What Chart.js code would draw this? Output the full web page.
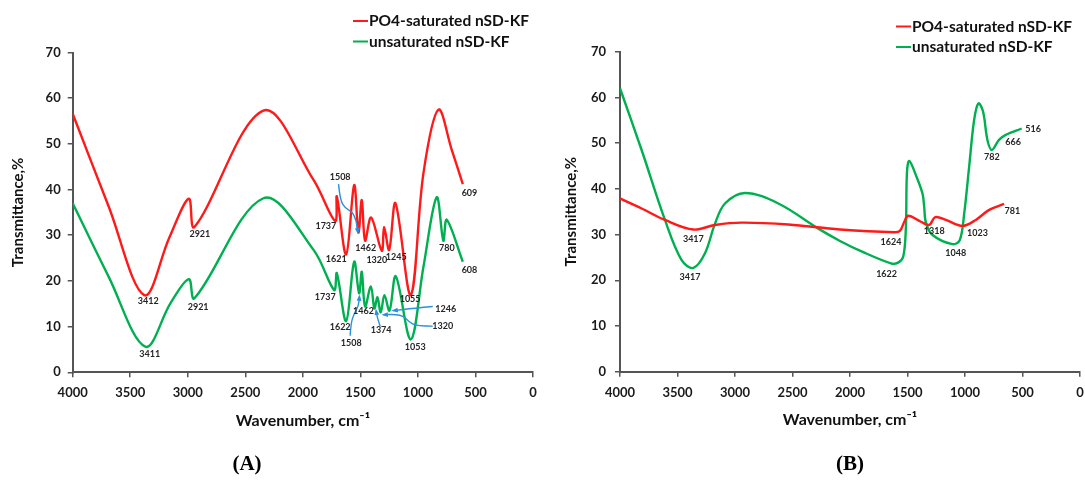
<!DOCTYPE html>
<html lang="en">
<head>
<meta charset="UTF-8">
<title>FTIR spectra of nSD-KF</title>
<script src="https://cdn.jsdelivr.net/npm/chart.js@4.4.0/dist/chart.umd.min.js"></script>
<style>
  body { margin: 0; background: #fff; }
  .panel { position: absolute; top: 0; height: 481px; }
  #boxA { left: 0; width: 540px; }
  #boxB { left: 540px; width: 545px; }
</style>
</head>
<body>
<div class="panel" id="boxA"><canvas id="chartA"></canvas></div>
<div class="panel" id="boxB"><canvas id="chartB"></canvas></div>
<script>
// Panel A spectra: wavenumber (cm-1) / transmittance (%)
const waveRedA = [4000, 3689, 3378, 3160, 2991, 2942, 2343, 1907, 1719, 1705, 1624, 1554, 1517, 1488, 1459, 1407, 1314, 1294, 1250, 1195, 1062, 952, 822, 706, 610];
const transRedA = [56.6, 36.4, 16.9, 29.5, 38.0, 31.8, 57.3, 42.1, 33.1, 38.5, 25.8, 41.0, 30.6, 37.7, 28.8, 33.9, 26.6, 31.8, 26.8, 37.0, 16.9, 43.6, 57.5, 48.7, 41.2];
const waveGreenA = [4000, 3689, 3369, 3151, 2991, 2942, 2343, 1907, 1728, 1705, 1624, 1554, 1511, 1488, 1459, 1409, 1378, 1352, 1323, 1291, 1247, 1192, 1062, 952, 837, 779, 749, 610];
const transGreenA = [37.0, 21.0, 5.6, 15.1, 20.4, 16.2, 38.1, 26.8, 18.0, 21.7, 11.2, 24.2, 17.3, 22.0, 14.4, 18.8, 14.0, 16.4, 13.1, 16.9, 13.5, 21.0, 7.2, 23.1, 38.3, 28.8, 33.4, 24.2];

// Panel B spectra
const waveRedB = [4000, 3812, 3609, 3362, 3174, 2942, 2536, 2087, 1615, 1566, 1528, 1494, 1384, 1311, 1259, 1167, 1022, 906, 790, 660];
const transRedB = [37.9, 35.7, 33.2, 31.1, 32.1, 32.6, 32.2, 31.1, 30.5, 30.8, 32.8, 34.1, 32.8, 32.1, 33.8, 33.2, 31.9, 33.2, 35.4, 36.7];
const waveGreenB = [4000, 3812, 3609, 3464, 3362, 3261, 3174, 3087, 2913, 2623, 2275, 2087, 1890, 1644, 1586, 1537, 1514, 1505, 1485, 1421, 1369, 1355, 1340, 1282, 1109, 1045, 1007, 964, 921, 883, 843, 805, 767, 704, 646, 507];
const transGreenB = [62.0, 48.5, 33.2, 24.4, 22.7, 25.9, 32.4, 36.8, 39.1, 36.8, 31.3, 28.6, 26.2, 23.7, 23.8, 25.2, 31.7, 43.4, 46.1, 42.6, 38.9, 36.1, 32.6, 29.9, 27.9, 28.8, 34.6, 44.8, 55.0, 58.7, 56.9, 50.7, 48.5, 50.7, 51.8, 53.2];

const seriesNames = ['PO4-saturated nSD-KF', 'unsaturated nSD-KF'];

// peak labels: [text, wavenumber, transmittance]
const peaksA = [
  ['3412', 3343, 15.6], ['2921', 2895, 30.2], ['3411', 3331, 3.9], ['2921', 2910, 14.2],
  ['1737', 1800, 32.0], ['1621', 1710, 24.8], ['1508', 1676, 42.7], ['1462', 1453, 27.2],
  ['1320', 1357, 24.6], ['1245', 1189, 25.3], ['1055', 1068, 16.0], ['609', 552, 39.3],
  ['780', 749, 27.2], ['608', 552, 22.3],
  ['1737', 1806, 16.4], ['1622', 1676, 9.9], ['1508', 1580, 6.5], ['1462', 1473, 13.3],
  ['1374', 1320, 9.2], ['1320', 784, 10.2], ['1246', 758, 13.9], ['1053', 1024, 5.5]
];
const peaksB = [
  ['3417', 3362, 28.9], ['3417', 3391, 20.6], ['1624', 1644, 28.4], ['1622', 1682, 21.4],
  ['1318', 1268, 30.8], ['1048', 1080, 25.9], ['1023', 892, 30.4], ['781', 588, 35.1],
  ['782', 767, 46.9], ['666', 582, 50.2], ['516', 408, 53.1]
];

// pointer arrows from labels to bands, in data units
const arrowsA = [
  [[1690, 41.2], [1676, 37.7], [1632, 35.9], [1574, 35.2], [1537, 33.4], [1522, 30.6]],
  [[1589, 8.0], [1583, 10.7], [1554, 12.9], [1517, 14.4], [1508, 16.6]],
  [[1328, 10.1], [1352, 11.8], [1363, 13.5]],
  [[871, 10.1], [1010, 10.1], [1082, 11.1], [1120, 12.3], [1198, 12.7], [1299, 12.6]],
  [[871, 14.4], [1039, 14.0], [1213, 13.5]]
];

const FONT = 'Lato, "Open Sans", sans-serif';
const RED = '#ff1a1a';
const GREEN = '#00b050';

function xy(w, t) {
  return w.map((v, i) => ({ x: v, y: t[i] }));
}

const marks = {
  id: 'marks',
  afterDatasetsDraw(chart, args, opts) {
    const { ctx } = chart;
    const sx = chart.scales.x, sy = chart.scales.y;
    ctx.save();

    // arrows
    ctx.strokeStyle = '#2990dd';
    ctx.fillStyle = '#2990dd';
    ctx.lineWidth = 1.4;
    (opts.arrows || []).forEach(path => {
      const p = path.map(([w, v]) => [sx.getPixelForValue(w), sy.getPixelForValue(v)]);
      ctx.beginPath();
      ctx.moveTo(p[0][0], p[0][1]);
      for (let i = 1; i < p.length - 1; i++) {
        ctx.quadraticCurveTo(p[i][0], p[i][1], (p[i][0] + p[i + 1][0]) / 2, (p[i][1] + p[i + 1][1]) / 2);
      }
      const end = p[p.length - 1], prev = p[p.length - 2];
      ctx.lineTo(end[0], end[1]);
      ctx.stroke();
      const a = Math.atan2(end[1] - prev[1], end[0] - prev[0]);
      ctx.beginPath();
      ctx.moveTo(end[0] + Math.cos(a) * 2, end[1] + Math.sin(a) * 2);
      ctx.lineTo(end[0] - 5 * Math.cos(a - 0.5), end[1] - 5 * Math.sin(a - 0.5));
      ctx.lineTo(end[0] - 5 * Math.cos(a + 0.5), end[1] - 5 * Math.sin(a + 0.5));
      ctx.closePath();
      ctx.fill();
    });

    // band labels
    ctx.font = 'bold 9px ' + FONT;
    ctx.fillStyle = '#262626';
    ctx.textAlign = 'center';
    ctx.textBaseline = 'middle';
    opts.peaks.forEach(([t, w, v]) => ctx.fillText(t, sx.getPixelForValue(w), sy.getPixelForValue(v)));

    // legend
    ctx.font = 'bold 15.5px ' + FONT;
    ctx.textAlign = 'left';
    chart.data.datasets.forEach((ds, i) => {
      const ly = opts.legendY + i * 20.5;
      ctx.strokeStyle = ds.borderColor;
      ctx.lineWidth = 2;
      ctx.beginPath();
      ctx.moveTo(opts.legendX, ly);
      ctx.lineTo(opts.legendX + 15, ly);
      ctx.stroke();
      ctx.fillStyle = '#111';
      ctx.fillText(ds.label, opts.legendX + 16, ly);
    });

    // panel tag
    ctx.font = 'bold 21px "Liberation Serif", serif';
    ctx.textAlign = 'center';
    ctx.fillStyle = '#000';
    ctx.fillText(opts.tag, opts.tagX, 465);
    ctx.restore();
  }
};

function makeChart(id, red, green, cfg) {
  return new Chart(document.getElementById(id), {
    type: 'line',
    data: {
      datasets: [
        { label: seriesNames[0], data: red, borderColor: RED },
        { label: seriesNames[1], data: green, borderColor: GREEN }
      ]
    },
    options: {
      responsive: true,
      maintainAspectRatio: false,
      animation: false,
      elements: {
        line: { borderWidth: 2.4, tension: 0.35, fill: false, capBezierPoints: true },
        point: { radius: 0 }
      },
      layout: { padding: cfg.padding },
      plugins: {
        legend: { display: false },
        tooltip: { enabled: false },
        marks: { peaks: cfg.peaks, arrows: cfg.arrows, legendX: cfg.legendX, legendY: cfg.legendY, tag: cfg.tag, tagX: cfg.tagX }
      },
      scales: {
        x: {
          type: 'linear',
          reverse: true,
          min: 0,
          max: 4000,
          // fixed axis band so the plot area lands in the same place on both panels
          afterFit: s => { s.height = 60; s.paddingLeft = 0; s.paddingRight = 0; },
          ticks: { stepSize: 500, color: '#1a1a1a', padding: 8, font: { family: FONT, size: 13, weight: 'bold' }, callback: v => v },
          grid: { drawOnChartArea: false, drawTicks: true, tickLength: 5, color: '#555', lineWidth: 1.5 },
          border: { color: '#555', width: 2 },
          title: {
            display: true, text: 'Wavenumber, cm⁻¹', color: '#111',
            font: { family: FONT, size: 16, weight: 'bold' }, padding: { top: 0, bottom: 2 }
          }
        },
        y: {
          min: 0,
          max: 70,
          afterFit: s => { s.width = cfg.yWidth; s.paddingTop = 0; s.paddingBottom = 0; },
          ticks: { stepSize: 10, color: '#1a1a1a', padding: cfg.yPad, font: { family: FONT, size: 13, weight: 'bold' }, callback: v => v },
          grid: { drawOnChartArea: false, drawTicks: true, tickLength: 5, color: '#555', lineWidth: 1.5 },
          border: { color: '#555', width: 2 },
          title: {
            display: true, text: 'Transmittance,%', color: '#111',
            font: { family: FONT, size: 15, weight: 'bold' }, padding: { top: cfg.yTitlePad, bottom: 0 }
          }
        }
      }
    },
    plugins: [marks]
  });
}

makeChart('chartA', xy(waveRedA, transRedA), xy(waveGreenA, transGreenA), {
  padding: { left: 0, top: 52.5, right: 7, bottom: 48.7 },
  yWidth: 72.7, yPad: 7, yTitlePad: 9,
  peaks: peaksA, arrows: arrowsA,
  legendX: 353, legendY: 21, tag: '(A)', tagX: 247
});

makeChart('chartB', xy(waveRedB, transRedB), xy(waveGreenB, transGreenB), {
  padding: { left: 0, top: 51.7, right: 5, bottom: 49.3 },
  yWidth: 80, yPad: 9, yTitlePad: 22,
  peaks: peaksB, arrows: [],
  legendX: 356, legendY: 26.5, tag: '(B)', tagX: 310
});
</script>
</body>
</html>
